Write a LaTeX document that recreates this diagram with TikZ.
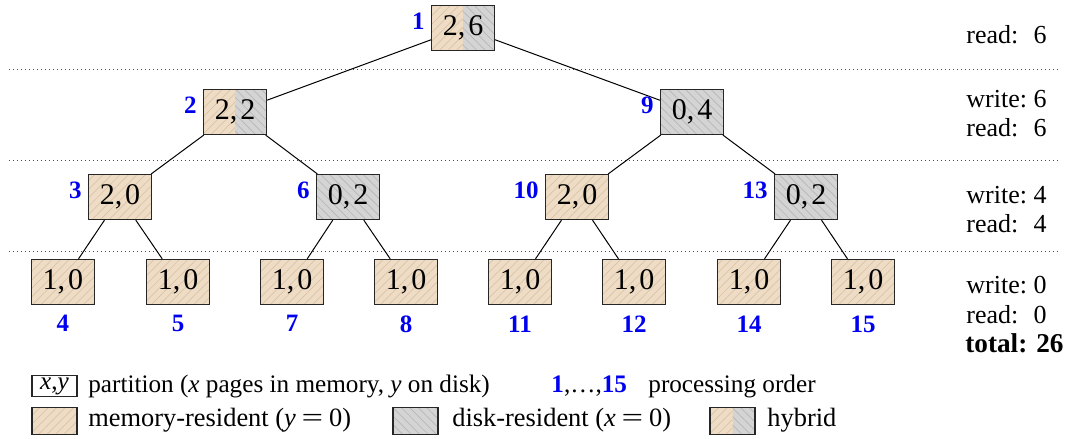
\documentclass[tikz,border=0pt]{standalone}
\usepackage{fontspec}
\setmainfont{Liberation Serif}
\usetikzlibrary{patterns.meta}

\definecolor{memfill}{HTML}{EEDCC6}
\definecolor{memline}{HTML}{DAC5A2}
\definecolor{diskfill}{HTML}{D4D4D4}
\definecolor{diskline}{HTML}{B6B6B6}
\definecolor{ordblue}{HTML}{0000F0}

\tikzset{
  memhatch/.style={preaction={fill=memfill},
    preaction={pattern={Lines[angle=45,distance=3pt,line width=0.35pt]}, pattern color=memline}},
  diskhatch/.style={preaction={fill=diskfill},
    preaction={pattern={Lines[angle=-45,distance=3pt,line width=0.35pt]}, pattern color=diskline}},
  hybhatch/.style={path picture={
    \path[memhatch] (path picture bounding box.south west) rectangle (path picture bounding box.north);
    \path[diskhatch] (path picture bounding box.south) rectangle (path picture bounding box.north east);}},
  part/.style={draw=black!85, line width=0.6pt, minimum width=31.5pt, minimum height=22.5pt,
    inner sep=0pt, font=\fontsize{15}{17}\selectfont},
  mem/.style={part, memhatch},
  disk/.style={part, diskhatch},
  hyb/.style={part, hybhatch},
  ord/.style={text=ordblue, font=\fontsize{12.5}{14}\bfseries\selectfont, inner sep=0pt},
  edge/.style={draw=black, line width=0.5pt},
  sep/.style={draw=black!70, line width=0.45pt, dash pattern=on 0.5pt off 1.5pt},
  cost/.style={inner sep=0pt, font=\fontsize{13}{15}\selectfont},
  legA/.style={inner sep=0pt, font=\fontsize{12.6}{15}\selectfont},
  legB/.style={inner sep=0pt, font=\fontsize{13.2}{15}\selectfont},
  legbox/.style={draw=black!85, line width=0.6pt, minimum width=22.5pt, minimum height=13.5pt, inner sep=0pt},
}

% partition label "x,y"
\newcommand{\pn}[2]{#1,\kern0.1em#2}
% wide equals sign, as in math setting
\newcommand{\weq}{\hspace{0.22em}\scalebox{1.45}[1]{=}\hspace{0.22em}}

\begin{document}
\begin{tikzpicture}[x=0.5pt, y=-0.5pt]
  \useasboundingbox (0,0) rectangle (1067,439);

  % level separators
  \draw[sep] (9,69) -- (1060,69);
  \draw[sep] (9,160) -- (1060,160);
  \draw[sep] (9,251) -- (1060,251);

  % partitions, named by processing order
  \node[hyb]  (n1)  at (463,28)  {\pn26};
  \node[hyb]  (n2)  at (235,112) {\pn22};
  \node[disk] (n9)  at (692,112) {\pn04};
  \node[mem]  (n3)  at (120,197) {\pn20};
  \node[disk] (n6)  at (348,197) {\pn02};
  \node[mem]  (n10) at (577,197) {\pn20};
  \node[disk] (n13) at (806,197) {\pn02};
  \node[mem]  (n4)  at (63,282)  {\pn10};
  \node[mem]  (n5)  at (178,282) {\pn10};
  \node[mem]  (n7)  at (292,282) {\pn10};
  \node[mem]  (n8)  at (406,282) {\pn10};
  \node[mem]  (n11) at (520,282) {\pn10};
  \node[mem]  (n12) at (634,282) {\pn10};
  \node[mem]  (n14) at (749,282) {\pn10};
  \node[mem]  (n15) at (863,282) {\pn10};

  % tree edges
  \draw[edge] (n1) -- (n2);   \draw[edge] (n1) -- (n9);
  \draw[edge] (n2) -- (n3);   \draw[edge] (n2) -- (n6);
  \draw[edge] (n9) -- (n10);  \draw[edge] (n9) -- (n13);
  \draw[edge] (n3) -- (n4);   \draw[edge] (n3) -- (n5);
  \draw[edge] (n6) -- (n7);   \draw[edge] (n6) -- (n8);
  \draw[edge] (n10) -- (n11); \draw[edge] (n10) -- (n12);
  \draw[edge] (n13) -- (n14); \draw[edge] (n13) -- (n15);

  % processing order of inner partitions
  \foreach \k in {1,2,9,3,6,10,13}
    \node[ord, anchor=east] (o\k) at ([shift={(-3pt,3.5pt)}]n\k.west) {\k};
  % processing order of leaves
  \foreach \k in {4,5,7,8,11,12,14,15}
    \node[ord, anchor=north] (o\k) at ([yshift=-5pt]n\k.south) {\k};

  % I/O cost per level
  \node[cost, anchor=base west] (r1l) at (966,43)  {read:};
  \node[cost, anchor=base east] (r1v) at (1047,43) {6};
  \node[cost, anchor=base west] (w2l) at (966,107) {write:};
  \node[cost, anchor=base east] (w2v) at (1047,107) {6};
  \node[cost, anchor=base west] (r2l) at (966,136) {read:};
  \node[cost, anchor=base east] (r2v) at (1047,136) {6};
  \node[cost, anchor=base west] (w3l) at (966,203) {write:};
  \node[cost, anchor=base east] (w3v) at (1047,203) {4};
  \node[cost, anchor=base west] (r3l) at (966,232) {read:};
  \node[cost, anchor=base east] (r3v) at (1047,232) {4};
  \node[cost, anchor=base west] (w4l) at (966,293) {write:};
  \node[cost, anchor=base east] (w4v) at (1047,293) {0};
  \node[cost, anchor=base west] (r4l) at (966,323) {read:};
  \node[cost, anchor=base east] (r4v) at (1047,323) {0};
  \node[cost, anchor=base west, font=\fontsize{13.6}{16}\bfseries\selectfont] (tot) at (965,352) {total: 26};

  % legend
  \node[legbox, legA, minimum height=10.5pt, fill=white] (kpart) at (54.5,386) {\textit{x},\textit{y}};
  \node[legA, anchor=base west] (tpart) at (88,392) {partition (\textit{x} pages in memory, \textit{y} on disk)};
  \node[legA, anchor=base west] (tord) at (551,392)
    {\textcolor{ordblue}{\bfseries 1},\ldots,\textcolor{ordblue}{\bfseries 15}};
  \node[legA, anchor=base west] (tordl) at (648,392) {processing order};

  \node[legbox, memhatch] (kmem) at (54.5,421) {};
  \node[legB, anchor=base west] (tmem) at (88,426) {memory-resident (\textit{y}\weq0)};
  \node[legbox, diskhatch] (kdisk) at (415.5,421) {};
  \node[legB, anchor=base west] (tdisk) at (452,426) {disk-resident (\textit{x}\weq0)};
  \node[legbox, hybhatch] (khyb) at (732.5,421) {};
  \node[legB, anchor=base west] (thyb) at (767,426) {hybrid};
\end{tikzpicture}
\end{document}
